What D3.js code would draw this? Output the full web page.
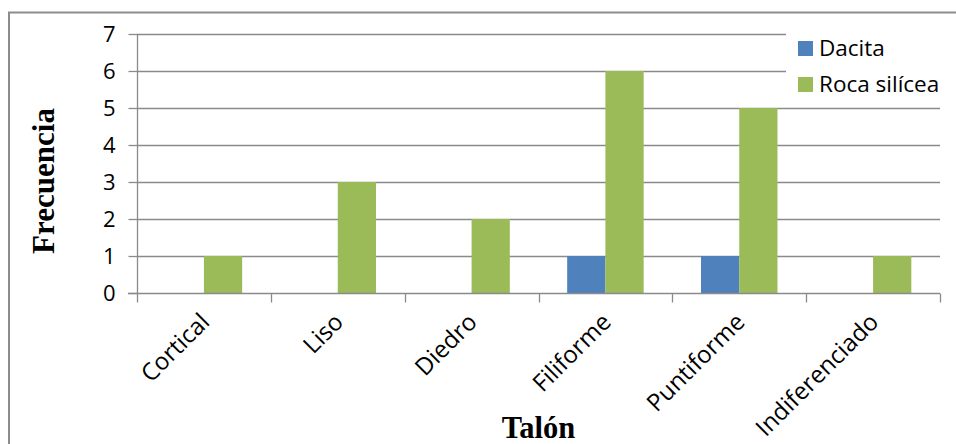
<!DOCTYPE html>
<html>
<head>
<meta charset="utf-8">
<script src="https://cdn.jsdelivr.net/npm/d3@7"></script>
<style>
  html, body { margin: 0; padding: 0; background: #fff; }
  svg { display: block; }
</style>
</head>
<body>
<svg id="chart" width="956" height="444"></svg>
<script>
// Talón types and counts per raw material
const categories = ["Cortical", "Liso", "Diedro", "Filiforme", "Puntiforme", "Indiferenciado"];
const seriesNames = ["Dacita", "Roca silícea"];
const dacita = [0, 0, 0, 1, 1, 0];
const rocaSilicea = [1, 3, 2, 6, 5, 1];
const yTicks = [0, 1, 2, 3, 4, 5, 6, 7];
const colors = ["#4F81BD", "#9BBB59"];

const series = [dacita, rocaSilicea];
const svg = d3.select("#chart");
const W = 956, H = 444;
const plot = { left: 137, right: 940, top: 34, bottom: 293 };
const sansFont = "'Open Sans', 'Noto Sans', sans-serif";
const serifFont = "'Liberation Serif', 'DejaVu Serif', serif";
const gridColor = "#8a8a8a";

// outer chart frame (top and left edges visible)
svg.append("path")
  .attr("d", `M9,${H} L9,12.5 L${W},12.5`)
  .attr("fill", "none")
  .attr("stroke", "#8c8c8c")
  .attr("stroke-width", 2);

const x = d3.scaleBand().domain(categories).range([plot.left, plot.right]);
const y = d3.scaleLinear().domain([0, 7]).range([plot.bottom, plot.top]);
const bandW = x.bandwidth();
const barW = bandW / 3.5;
const xs = d3.scaleBand().domain(seriesNames).range([bandW / 2 - barW, bandW / 2 + barW]);

// horizontal gridlines
svg.append("g")
  .selectAll("line")
  .data(yTicks.filter(d => d > 0))
  .join("line")
  .attr("x1", plot.left).attr("x2", plot.right)
  .attr("y1", d => Math.round(y(d)) + 0.5).attr("y2", d => Math.round(y(d)) + 0.5)
  .attr("stroke", gridColor).attr("stroke-width", 1.3);

// bars
const rows = categories.map((c, i) => ({ c, vals: series.map((s, k) => ({ k, name: seriesNames[k], v: s[i] })) }));
svg.append("g")
  .selectAll("g")
  .data(rows)
  .join("g")
  .attr("transform", d => `translate(${x(d.c)},0)`)
  .selectAll("rect")
  .data(d => d.vals.filter(v => v.v > 0))
  .join("rect")
  .attr("x", d => xs(d.name))
  .attr("width", xs.bandwidth())
  .attr("y", d => y(d.v))
  .attr("height", d => y(0) - y(d.v))
  .attr("fill", d => colors[d.k]);

// y axis
const yAxis = d3.axisLeft(y).tickValues(yTicks).tickSize(9).tickPadding(13).tickFormat(d3.format("d"));
const gy = svg.append("g").attr("transform", `translate(${plot.left + 0.5},0)`).call(yAxis);
gy.select(".domain").attr("stroke", gridColor).attr("stroke-width", 1.3).attr("d", `M0,${plot.top}V${plot.bottom}`);
gy.selectAll(".tick line").attr("stroke", gridColor).attr("stroke-width", 1.3);
gy.selectAll(".tick text")
  .attr("font-family", sansFont).attr("font-size", 22).attr("fill", "#000");

// x axis with ticks between categories
const gx = svg.append("g").attr("transform", `translate(0,${Math.round(plot.bottom) + 0.5})`);
gx.append("line").attr("x1", plot.left - 9).attr("x2", plot.right)
  .attr("stroke", gridColor).attr("stroke-width", 1.3);
const bounds = categories.map(c => x(c)).concat([plot.right]);
gx.selectAll("line.tk").data(bounds).join("line").attr("class", "tk")
  .attr("x1", d => Math.round(d) + 0.5).attr("x2", d => Math.round(d) + 0.5)
  .attr("y1", 0).attr("y2", 9)
  .attr("stroke", gridColor).attr("stroke-width", 1.3);
gx.selectAll("text").data(categories).join("text")
  .attr("transform", d => `translate(${x(d) + bandW / 2 + 7},${30}) rotate(-45)`)
  .attr("text-anchor", "end")
  .attr("font-family", sansFont).attr("font-size", 24).attr("fill", "#000")
  .text(d => d);

// axis titles
svg.append("text")
  .attr("transform", `translate(54,${181}) rotate(-90)`)
  .attr("text-anchor", "middle")
  .attr("font-family", serifFont).attr("font-weight", "bold").attr("font-size", 31)
  .text("Frecuencia");
svg.append("text")
  .attr("x", (plot.left + plot.right) / 2).attr("y", 438)
  .attr("text-anchor", "middle")
  .attr("font-family", serifFont).attr("font-weight", "bold").attr("font-size", 30.5)
  .text("Talón");

// legend on a white panel
const lg = svg.append("g").attr("transform", "translate(786,26)");
lg.append("rect").attr("x", 0).attr("y", 0).attr("width", 168).attr("height", 76).attr("fill", "#fff");
const li = lg.selectAll("g.item").data(seriesNames).join("g").attr("class", "item")
  .attr("transform", (d, i) => `translate(12,${15 + i * 36})`);
li.append("rect").attr("width", 15).attr("height", 15).attr("fill", (d, i) => colors[i]);
li.append("text").attr("x", 21).attr("y", 15)
  .attr("font-family", sansFont).attr("font-size", 22.5).attr("fill", "#000")
  .text(d => d);
</script>
</body>
</html>
